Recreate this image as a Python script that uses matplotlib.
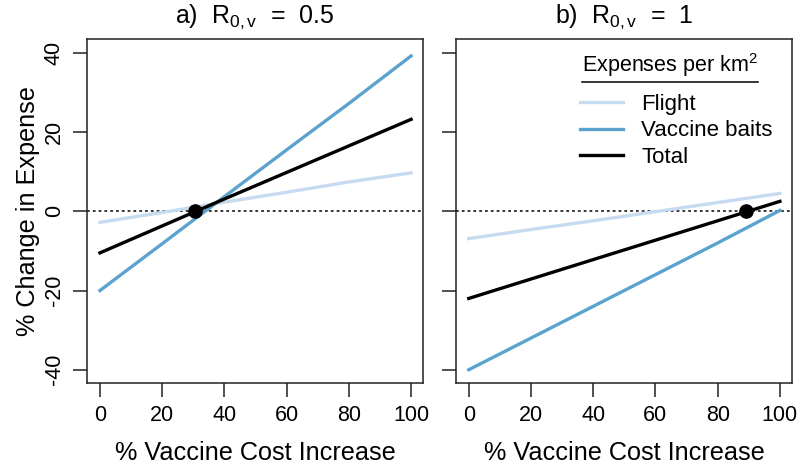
import matplotlib
matplotlib.use("Agg")
import matplotlib.pyplot as plt
from matplotlib.lines import Line2D

plt.rcParams['font.family'] = ['Liberation Sans', 'DejaVu Sans']
plt.rcParams['mathtext.fontset'] = 'custom'
plt.rcParams['mathtext.rm'] = 'Liberation Sans'
plt.rcParams['mathtext.it'] = 'Liberation Sans:italic'
plt.rcParams['axes.unicode_minus'] = False

# ---- data ----
cost_increase = [0, 20, 40, 60, 80, 100]

a_flight = [-2.8, -0.3, 2.3, 4.8, 7.4, 9.7]
a_vaccine = [-20.0, -8.2, 3.7, 15.5, 27.2, 39.2]
a_total = [-10.5, -3.7, 3.1, 9.8, 16.5, 23.2]
a_breakeven = (30.5, 0.0)

b_flight = [-6.9, -4.6, -2.4, -0.1, 2.2, 4.5]
b_vaccine = [-40.0, -32.0, -24.0, -16.0, -8.0, 0.2]
b_total = [-22.0, -17.1, -12.2, -7.3, -2.4, 2.5]
b_breakeven = (89.2, 0.0)

titles = [r"a)  R$_{\mathrm{0,v}}$  =  0.5", r"b)  R$_{\mathrm{0,v}}$  =  1"]
series_labels = ["Flight", "Vaccine baits", "Total"]
legend_title = "Expenses per km$^2$"
xticks = [0, 20, 40, 60, 80, 100]
yticks = [-40, -20, 0, 20, 40]

col_flight = "#c6dbef"
col_vaccine = "#5ba3cf"
col_total = "#000000"

fig = plt.figure(figsize=(8, 4.68), dpi=100)
ax1 = fig.add_axes([0.109, 0.182, 0.420, 0.734])
ax2 = fig.add_axes([0.570, 0.182, 0.420, 0.734])

panels = [
    (ax1, a_flight, a_vaccine, a_total, a_breakeven, titles[0]),
    (ax2, b_flight, b_vaccine, b_total, b_breakeven, titles[1]),
]

for i, (ax, fl, va, to, be, ttl) in enumerate(panels):
    ax.axhline(0, color="black", lw=1.1, ls=(0, (1.8, 2.0)), zorder=1)
    ax.plot(cost_increase, fl, color=col_flight, lw=2.4, label=series_labels[0], zorder=2)
    ax.plot(cost_increase, va, color=col_vaccine, lw=2.4, label=series_labels[1], zorder=3)
    ax.plot(cost_increase, to, color=col_total, lw=2.4, label=series_labels[2], zorder=4)
    ax.plot([be[0]], [be[1]], 'o', color="black", ms=9.5, zorder=5)
    ax.set_xlim(-4.1, 103.9)
    ax.set_ylim(-43.3, 43.4)
    ax.set_xticks(xticks)
    ax.set_yticks(yticks)
    ax.tick_params(direction="out", length=10, width=1.1, labelsize=15.5, pad=6, color="#222222")
    for s in ax.spines.values():
        s.set_linewidth(1.1)
        s.set_color("#222222")
    ax.set_xlabel("% Vaccine Cost Increase", fontsize=18.2, labelpad=11)
    ax.set_title(ttl, fontsize=18, pad=12)
    if i == 0:
        for lab in ax.get_yticklabels():
            lab.set_rotation(90)
            lab.set_va("center")
        ax.set_ylabel("% Change in Expense", fontsize=18.2, labelpad=3)
    else:
        ax.set_yticklabels([])

# legend title, underlined
t = ax2.text(0.637, 0.925, legend_title, transform=ax2.transAxes, ha="center", va="center",
             fontsize=15.5)
leg = ax2.legend(loc="upper left", bbox_to_anchor=(0.37, 0.842), frameon=False,
                 fontsize=16, handlelength=1.9, handletextpad=0.85, labelspacing=0.26,
                 borderaxespad=0, borderpad=0)

fig.canvas.draw()
tb = t.get_window_extent(fig.canvas.get_renderer())
inv = fig.transFigure.inverted()
(x0, y0) = inv.transform((tb.x0, tb.y0 - 3))
(x1, _) = inv.transform((tb.x1, tb.y0 - 3))
fig.add_artist(Line2D([x0, x1], [y0, y0], color="black", lw=1.1, transform=fig.transFigure))

fig.savefig("out.png", dpi=100)
